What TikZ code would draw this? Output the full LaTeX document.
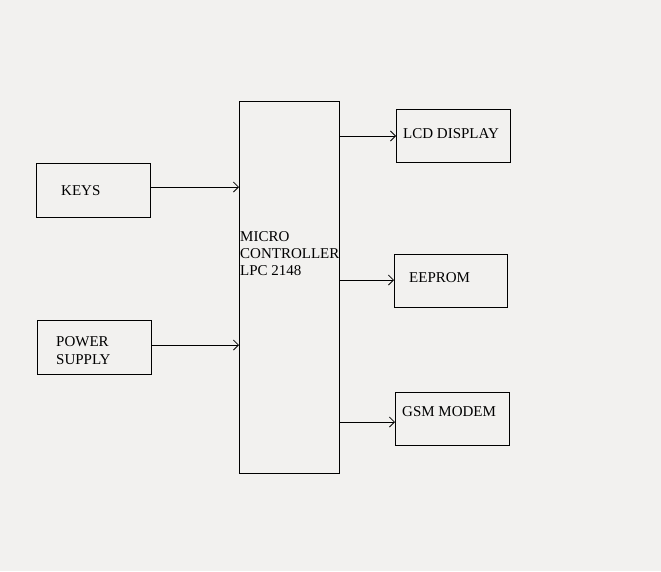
\documentclass[tikz,border=0pt]{standalone}
\usepackage{fontspec}
\setmainfont{Liberation Serif}
\usetikzlibrary{arrows.meta}
\definecolor{bg}{HTML}{F2F1EF}
\tikzset{
  blk/.style={draw=black, line width=1.1pt, anchor=north west, inner sep=0pt},
  lbl/.style={anchor=base west, inner sep=0pt, font=\fontsize{15}{17}\selectfont, text=black},
  conn/.style={line width=1pt, -{Straight Barb[length=5pt,width=10pt,line width=0.8pt]}}
}
\begin{document}
\begin{tikzpicture}[x=1pt,y=-1pt]
\fill[bg] (0,0) rectangle (661,571);
\useasboundingbox (0,0) rectangle (661,571);
% boxes
\node[blk, minimum width=114pt, minimum height=54pt] (keys) at (36,163) {};
\node[blk, minimum width=114pt, minimum height=54pt] (power) at (37,320) {};
\node[blk, minimum width=100pt, minimum height=372pt] (mc) at (239,101) {};
\node[blk, minimum width=114pt, minimum height=53pt] (lcd) at (396,109) {};
\node[blk, minimum width=113pt, minimum height=53pt] (eeprom) at (394,254) {};
\node[blk, minimum width=114pt, minimum height=53pt] (gsm) at (395,392) {};
% labels
\node[lbl] (tkeys) at (61,195) {KEYS};
\node[lbl] (tpow1) at (56,346.5) {POWER};
\node[lbl] (tpow2) at (56,364) {SUPPLY};
\node[lbl] (tmc1) at (240,241) {MICRO};
\node[lbl] (tmc2) at (240,258) {CONTROLLER};
\node[lbl] (tmc3) at (240,275) {LPC 2148};
\node[lbl] (tlcd) at (403,138) {LCD DISPLAY};
\node[lbl] (teep) at (409,282) {EEPROM};
\node[lbl] (tgsm) at (402,416.5) {GSM MODEM};
% connectors
\draw[conn] (keys.east |- 0,187) -- (mc.west |- 0,187);
\draw[conn] (power.east |- 0,345) -- (mc.west |- 0,345);
\draw[conn] (mc.east |- 0,136) -- (lcd.west |- 0,136);
\draw[conn] (mc.east |- 0,280) -- (eeprom.west |- 0,280);
\draw[conn] (mc.east |- 0,422) -- (gsm.west |- 0,422);
\end{tikzpicture}
\end{document}
